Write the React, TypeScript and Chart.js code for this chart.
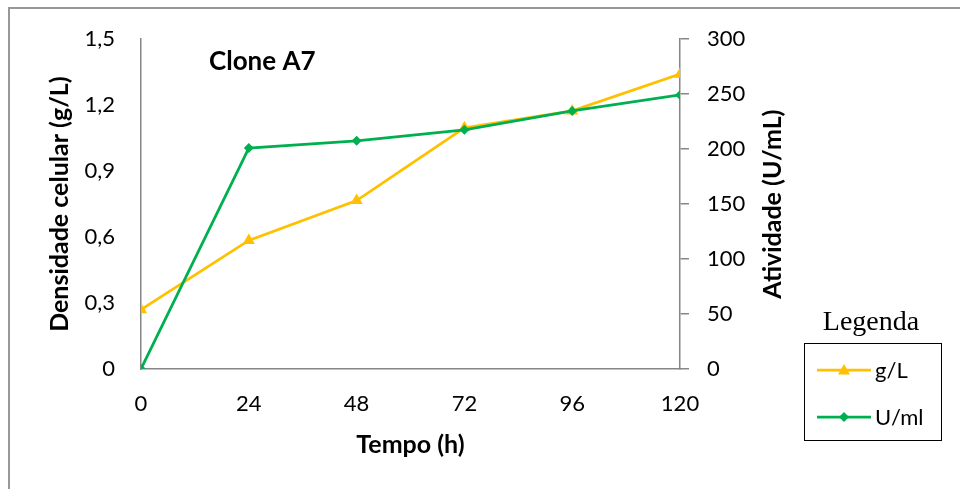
import React, { useEffect, useRef } from "react";
import { Chart, registerables } from "chart.js";

Chart.register(...registerables);

const hours = [0, 24, 48, 72, 96, 120];
const densidade = [0.27, 0.585, 0.766, 1.097, 1.174, 1.341];
const atividade = [0, 201, 207.6, 217.6, 234.8, 249.3];
const leftTicks = [0, 0.3, 0.6, 0.9, 1.2, 1.5];
const rightTicks = [0, 50, 100, 150, 200, 250, 300];
const xTicks = [0, 24, 48, 72, 96, 120];
const seriesLabels = ["g/L", "U/ml"];
const chartTitle = "Clone A7";
const xTitle = "Tempo (h)";
const leftTitle = "Densidade celular (g/L)";
const rightTitle = "Atividade (U/mL)";
const legendTitle = "Legenda";

const YELLOW = "#FFC000";
const GREEN = "#00B050";
const AXIS = "#868686";
const FONT = "Lato";
const TITLE_SIZE = 25;

function drawMarker(ctx: CanvasRenderingContext2D, style: string, x: number, y: number, r: number, color: string) {
  ctx.save();
  ctx.fillStyle = color;
  ctx.beginPath();
  if (style === "triangle") {
    ctx.moveTo(x, y - r);
    ctx.lineTo(x + r, y + r * 0.75);
    ctx.lineTo(x - r, y + r * 0.75);
  } else {
    ctx.moveTo(x, y - r);
    ctx.lineTo(x + r, y);
    ctx.lineTo(x, y + r);
    ctx.lineTo(x - r, y);
  }
  ctx.closePath();
  ctx.fill();
  ctx.restore();
}

const decor = {
  id: "decor",
  beforeDraw(chart: any) {
    const ctx = chart.ctx;
    ctx.save();
    ctx.fillStyle = "#ffffff";
    ctx.fillRect(0, 0, chart.width, chart.height);
    ctx.strokeStyle = "#989898";
    ctx.lineWidth = 2;
    ctx.beginPath();
    ctx.moveTo(9, chart.height + 2);
    ctx.lineTo(9, 8);
    ctx.lineTo(chart.width + 2, 8);
    ctx.stroke();
    ctx.restore();
  },
  afterDraw(chart: any) {
    const ctx = chart.ctx;
    const area = chart.chartArea;
    ctx.save();
    // chart title inside plot
    ctx.fillStyle = "#000";
    ctx.font = `bold 26px ${FONT}`;
    ctx.textAlign = "left";
    ctx.textBaseline = "middle";
    ctx.fillText(chartTitle, area.left + 68, area.top + 22);

    // right axis title, reading bottom-to-top
    ctx.save();
    ctx.translate(773, (area.top + area.bottom) / 2);
    ctx.rotate(-Math.PI / 2);
    ctx.textAlign = "center";
    ctx.textBaseline = "middle";
    ctx.font = `bold ${TITLE_SIZE}px ${FONT}`;
    ctx.fillText(rightTitle, 0, 0);
    ctx.restore();

    // legend
    ctx.font = `28px "Liberation Serif"`;
    ctx.textAlign = "center";
    ctx.textBaseline = "middle";
    ctx.fillText(legendTitle, 871, 323);
    ctx.strokeStyle = "#000";
    ctx.lineWidth = 1;
    ctx.strokeRect(804.5, 343.5, 137, 97);
    const ds = chart.data.datasets;
    const rowsY = [370, 417];
    ds.forEach((d: any, i: number) => {
      const y = rowsY[i];
      ctx.strokeStyle = d.borderColor;
      ctx.lineWidth = 2.75;
      ctx.beginPath();
      ctx.moveTo(817, y);
      ctx.lineTo(871, y);
      ctx.stroke();
      drawMarker(ctx, d.pointStyle, 844, y, d.pointStyle === "triangle" ? 6 : 5, d.borderColor);
      ctx.fillStyle = "#000";
      ctx.font = `22px ${FONT}`;
      ctx.textAlign = "left";
      ctx.fillText(d.label, 875, y + 1);
    });
    ctx.restore();
  },
};

export default function App() {
  const ref = useRef<HTMLCanvasElement | null>(null);
  useEffect(() => {
    if (!ref.current) return;
    const fmt = (v: number) => (v === 0 ? "0" : v.toFixed(1).replace(".", ","));
    const titleFont = { family: FONT, size: TITLE_SIZE, weight: "bold" };
    const half = (TITLE_SIZE * 1.2) / 2;
    const chart = new Chart(ref.current, {
      type: "line",
      data: {
        datasets: [
          {
            label: seriesLabels[0],
            data: hours.map((h, i) => ({ x: h, y: densidade[i] })),
            yAxisID: "y",
            borderColor: YELLOW,
            backgroundColor: YELLOW,
            borderWidth: 2.75,
            pointStyle: "triangle",
            pointRadius: 7,
            pointHoverRadius: 7,
            pointBorderWidth: 0,
            order: 1,
            tension: 0,
          },
          {
            label: seriesLabels[1],
            data: hours.map((h, i) => ({ x: h, y: atividade[i] })),
            yAxisID: "y1",
            borderColor: GREEN,
            backgroundColor: GREEN,
            borderWidth: 2.75,
            pointStyle: "rectRot",
            pointRadius: 5,
            pointHoverRadius: 5,
            pointBorderWidth: 0,
            order: 0,
            tension: 0,
          },
        ],
      },
      options: {
        responsive: false,
        animation: false,
        events: [],
        layout: { padding: { left: 0, right: 0, top: 38, bottom: 0 } },
        plugins: { legend: { display: false }, tooltip: { enabled: false } },
        scales: {
          x: {
            type: "linear",
            min: 0,
            max: 120,
            afterBuildTicks: (s: any) => {
              s.ticks = xTicks.map((v) => ({ value: v }));
            },
            afterFit: (s: any) => {
              s.height = 120;
            },
            grid: { display: true, drawOnChartArea: false, drawTicks: false },
            border: { display: true, color: AXIS, width: 1.5 },
            ticks: { color: "#000", font: { family: FONT, size: 22 }, padding: 22, maxRotation: 0 },
            title: {
              display: true,
              text: xTitle,
              color: "#000",
              font: titleFont,
              padding: { top: 0, bottom: 44 - half },
            },
          },
          y: {
            type: "linear",
            position: "left",
            min: 0,
            max: 1.5,
            afterBuildTicks: (s: any) => {
              s.ticks = leftTicks.map((v) => ({ value: v }));
            },
            afterFit: (s: any) => {
              s.width = 141;
            },
            grid: { display: true, drawOnChartArea: false, drawTicks: false },
            border: { display: true, color: AXIS, width: 1.5 },
            ticks: { color: "#000", font: { family: FONT, size: 22 }, padding: 26, callback: (v: any) => fmt(Number(v)) },
            title: {
              display: true,
              text: leftTitle,
              color: "#000",
              font: titleFont,
              padding: { top: 60 - half, bottom: 0 },
            },
          },
          y1: {
            type: "linear",
            position: "right",
            min: 0,
            max: 300,
            afterBuildTicks: (s: any) => {
              s.ticks = rightTicks.map((v) => ({ value: v }));
            },
            afterFit: (s: any) => {
              s.width = 280;
            },
            grid: { display: true, drawOnChartArea: false, drawTicks: true, tickLength: 9, color: AXIS, lineWidth: 1.5 },
            border: { display: true, color: AXIS, width: 1.5 },
            ticks: { color: "#000", font: { family: FONT, size: 22 }, padding: 18 },
            title: { display: false },
          },
        },
      } as any,
      plugins: [decor],
    });
    return () => chart.destroy();
  }, []);
  return (
    <div style={{ position: "fixed", left: 0, top: 0, width: 960, height: 489 }}>
      <canvas ref={ref} width={960} height={489} />
    </div>
  );
}
